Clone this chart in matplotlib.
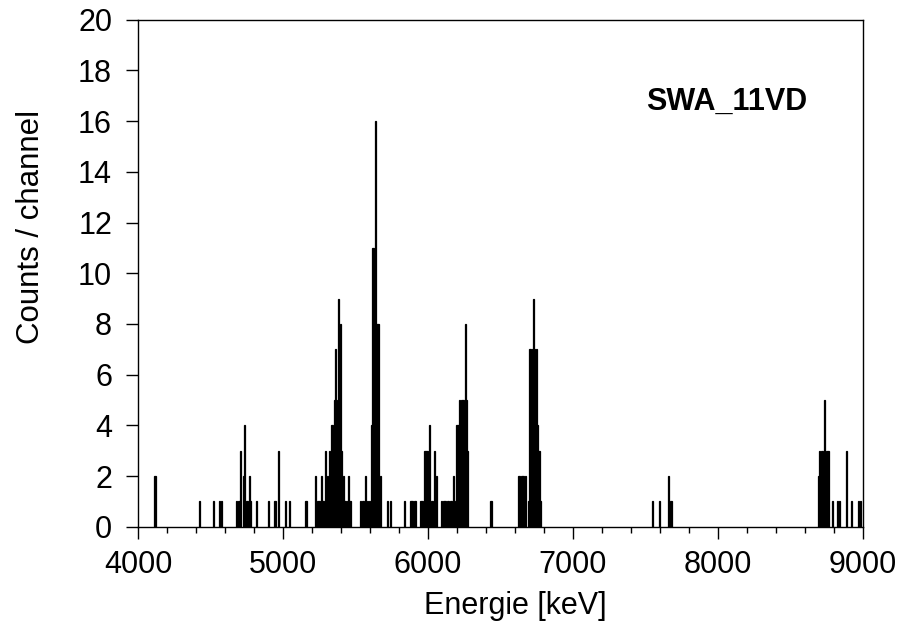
import matplotlib
matplotlib.use("Agg")
import matplotlib.pyplot as plt
from matplotlib.ticker import MultipleLocator

plt.rcParams['font.family'] = ['Liberation Sans', 'DejaVu Sans']

energy = [4117, 4421, 4522, 4559, 4577, 4680, 4690, 4700, 4710, 4724, 4736, 4745, 4755, 4766, 4775,
          4818, 4901, 4938, 4950, 4966, 5014, 5046, 5152, 5163, 5226, 5236, 5245,
          5252, 5262, 5270, 5280, 5290, 5300, 5310, 5319, 5328, 5336, 5344, 5352, 5361, 5370,
          5378, 5386, 5395, 5405, 5416, 5425, 5433, 5442, 5450, 5462,
          5536, 5545, 5554, 5568, 5578, 5590, 5600, 5609, 5618, 5627, 5636, 5644, 5652, 5660, 5670,
          5720, 5743, 5837, 5876, 5886, 5896, 5906, 5917, 5945, 5954, 5963, 5975, 5983, 5991, 5998,
          6012, 6022, 6030, 6044, 6052, 6060, 6094, 6104, 6114, 6124, 6134, 6144, 6154, 6163,
          6179, 6193, 6200, 6208, 6216, 6222, 6229, 6238, 6246, 6256, 6263, 6271,
          6428, 6440, 6621, 6632, 6642, 6652, 6662, 6675, 6690, 6700, 6710, 6718, 6726, 6735, 6745,
          6752, 6760, 6770, 6778,
          7550, 7598, 7662, 7676,
          8695, 8703, 8711, 8719, 8727, 8735, 8743, 8752, 8760, 8790, 8823, 8835, 8886, 8922, 8967, 8985]
counts = [2, 1, 1, 1, 1, 1, 1, 1, 3, 2, 4, 1, 1, 2, 1,
          1, 1, 1, 1, 3, 1, 1, 1, 1, 2, 1, 1,
          1, 2, 1, 1, 3, 1, 2, 3, 2, 4, 4, 5, 7, 5,
          4, 9, 8, 3, 2, 1, 1, 1, 2, 1,
          1, 1, 1, 2, 1, 1, 1, 4, 11, 11, 16, 8, 8, 8, 2,
          1, 1, 1, 1, 1, 1, 1, 1, 1, 1, 1, 3, 3, 3, 3,
          4, 1, 1, 3, 1, 2, 1, 1, 1, 1, 1, 1, 1, 1,
          2, 1, 4, 4, 5, 4, 5, 5, 5, 8, 5, 3,
          1, 1, 2, 2, 2, 2, 2, 2, 1, 7, 7, 7, 9, 7, 7,
          4, 3, 3, 1,
          1, 1, 2, 1,
          2, 3, 3, 3, 2, 5, 2, 3, 3, 1, 1, 1, 3, 1, 1, 1]

fig = plt.figure(figsize=(9.04, 6.32), dpi=100)
ax = fig.add_axes([0.1527, 0.1666, 0.8019, 0.8022])

ax.bar(energy, counts, width=7, color='black', edgecolor='black', linewidth=0.9, align='center')

ax.set_xlim(4000, 9000)
ax.set_ylim(0, 20)
ax.xaxis.set_major_locator(MultipleLocator(1000))
ax.xaxis.set_minor_locator(MultipleLocator(200))
ax.yaxis.set_major_locator(MultipleLocator(2))

ax.tick_params(axis='both', which='major', direction='out', length=8.7, width=1,
               labelsize=22, colors='black')
ax.tick_params(axis='y', which='major', pad=10)
ax.tick_params(axis='x', which='major', pad=8)
ax.tick_params(axis='x', which='minor', direction='out', length=4.3, width=1)
for s in ax.spines.values():
    s.set_linewidth(1)
    s.set_color('black')

fig.text(515 / 904, 1 - 614 / 632, 'Energie [keV]', fontsize=22, ha='center', va='baseline')
fig.text(31 / 904, 1 - 227 / 632, 'Counts / channel', fontsize=22.5, rotation=90,
         ha='center', va='center')

ax.text(8060, 16.78, 'SWA_11VD', fontsize=22, fontweight='bold', ha='center', va='center')

fig.savefig('out.png', dpi=100)
